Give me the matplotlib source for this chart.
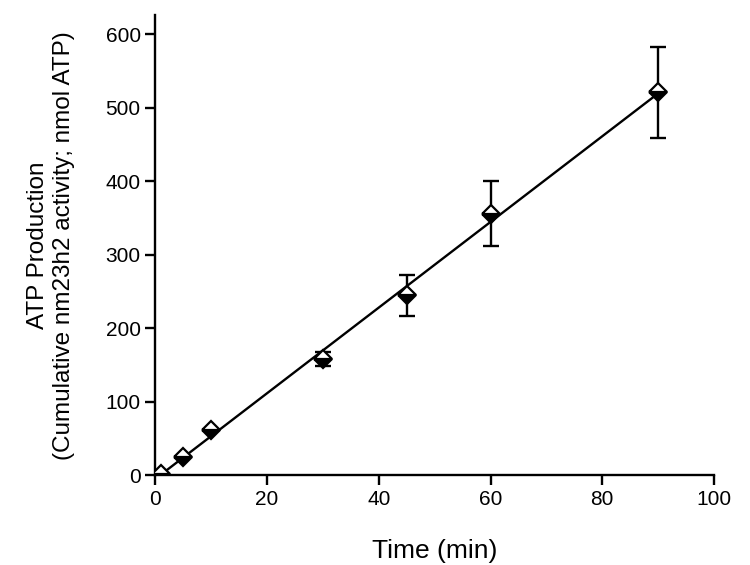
import numpy as np
import matplotlib.pyplot as plt

plt.rcParams["font.family"] = ["Liberation Sans", "DejaVu Sans"]

# ── Data ──────────────────────────────────────────────────────────────────────

time_min = [1, 5, 10, 30, 45, 60, 90]
atp_nmol = [2, 25, 62, 158, 245, 356, 521]
atp_err  = [0, 0, 0, 10, 28, 44, 62]

# ── Figure ────────────────────────────────────────────────────────────────────

fig = plt.figure(figsize=(7.5, 5.65), dpi=100)
ax = fig.add_axes([0.207, 0.159, 0.745, 0.814])

# linear fit through the points
slope, icpt = np.polyfit(time_min, atp_nmol, 1)
xfit = np.array([0, max(time_min)])
ax.plot(xfit, slope * xfit + icpt, color="black", lw=1.7, zorder=2)

ax.errorbar(time_min, atp_nmol, yerr=atp_err, fmt="none", ecolor="black",
            elinewidth=1.7, capsize=6, capthick=1.7, zorder=3)
ax.plot(time_min, atp_nmol, ls="none", marker="D", ms=9, mew=1.6,
        mec="black", mfc="black", fillstyle="bottom", markerfacecoloralt="white",
        zorder=4)

ax.set_xlim(0, 100)
ax.set_ylim(0, 626)
ax.set_xticks(range(0, 101, 20))
ax.set_yticks(range(0, 601, 100))

for s in ("top", "right"):
    ax.spines[s].set_visible(False)
for s in ("left", "bottom"):
    ax.spines[s].set_linewidth(1.7)
ax.tick_params(direction="out", length=7, width=1.7, labelsize=15)

ax.set_xlabel("Time (min)", fontsize=19, labelpad=22)
ax.set_ylabel("ATP Production\n(Cumulative nm23h2 activity; nmol ATP)",
              fontsize=17.5, labelpad=22, linespacing=1.25)

fig.savefig("out.png", dpi=100)
